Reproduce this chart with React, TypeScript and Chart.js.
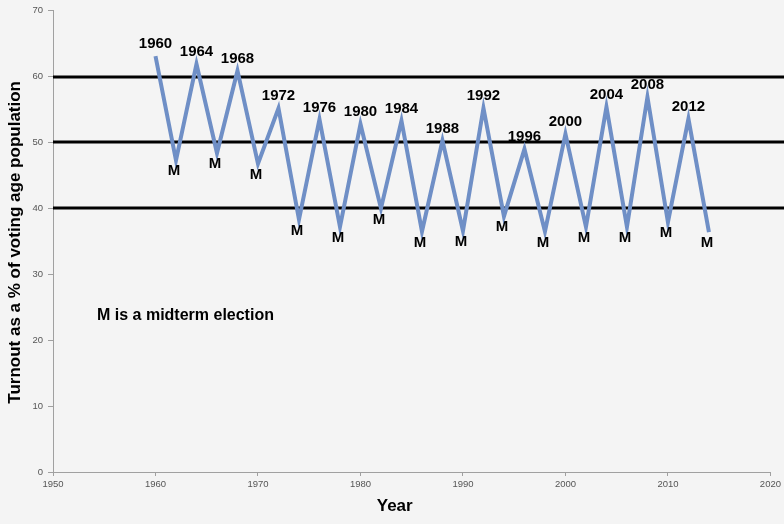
import React, { useEffect, useRef } from "react";
import { Chart, registerables } from "chart.js";

Chart.register(...registerables);

const years = [1960, 1962, 1964, 1966, 1968, 1970, 1972, 1974, 1976, 1978, 1980, 1982, 1984, 1986, 1988, 1990, 1992, 1994, 1996, 1998, 2000, 2002, 2004, 2006, 2008, 2010, 2012, 2014];
const turnout = [63.1, 47.3, 61.9, 48.4, 60.9, 46.8, 55.2, 38.3, 53.5, 37.2, 52.8, 40.0, 53.3, 36.5, 50.3, 36.6, 55.2, 38.8, 49.0, 36.5, 51.3, 37.2, 55.4, 37.2, 56.9, 37.9, 53.6, 36.4];
const pointLabels = ["1960", "M", "1964", "M", "1968", "M", "1972", "M", "1976", "M", "1980", "M", "1984", "M", "1988", "M", "1992", "M", "1996", "M", "2000", "M", "2004", "M", "2008", "M", "2012", "M"];
const referenceLines = [40, 50, 60];
const xRange = { min: 1950, max: 2020, step: 10 };
const yRange = { min: 0, max: 70, step: 10 };
const yTitle = "Turnout as a % of voting age population";
const xTitle = "Year";
const note = "M is a midterm election";

const FONT = 'Arial, "Liberation Sans", sans-serif';

const customDraw = {
  id: "customDraw",
  beforeDraw(chart: any) {
    const { ctx, width, height } = chart;
    ctx.save();
    ctx.fillStyle = "#f4f4f4";
    ctx.fillRect(0, 0, width, height);
    ctx.restore();
  },
  beforeDatasetsDraw(chart: any) {
    const { ctx, chartArea, width } = chart;
    const yScale = chart.scales.y;
    ctx.save();
    ctx.strokeStyle = "#000";
    ctx.lineWidth = 3;
    referenceLines.forEach((v) => {
      const py = Math.round(yScale.getPixelForValue(v));
      ctx.beginPath();
      ctx.moveTo(chartArea.left, py);
      ctx.lineTo(width, py);
      ctx.stroke();
    });
    ctx.restore();
  },
  afterDatasetsDraw(chart: any) {
    const { ctx, chartArea } = chart;
    const xScale = chart.scales.x;
    const yScale = chart.scales.y;
    ctx.save();
    ctx.fillStyle = "#000";
    ctx.textAlign = "center";
    ctx.textBaseline = "middle";
    ctx.font = `bold 15px ${FONT}`;
    years.forEach((yr, i) => {
      const px = xScale.getPixelForValue(yr);
      const py = yScale.getPixelForValue(turnout[i]);
      const lab = pointLabels[i];
      if (lab === "M") {
        ctx.fillText(lab, px - 2, py + 11);
      } else {
        ctx.fillText(lab, px, py - 12);
      }
    });
    // note
    ctx.textAlign = "left";
    ctx.font = `bold 16px ${FONT}`;
    ctx.fillText(note, 97, yScale.getPixelForValue(23.8));
    // x title
    ctx.textAlign = "center";
    ctx.font = `bold 17px ${FONT}`;
    ctx.fillText(xTitle, (chartArea.left + chartArea.right) / 2 - 17, 506);
    // y title
    ctx.font = `bold 17px ${FONT}`;
    ctx.translate(15, (chartArea.top + chartArea.bottom) / 2 + 1);
    ctx.rotate(-Math.PI / 2);
    ctx.fillText(yTitle, 0, 0);
    ctx.restore();
  },
};

export default function App() {
  const ref = useRef<HTMLCanvasElement>(null);
  useEffect(() => {
    if (!ref.current) return;
    const chart = new Chart(ref.current, {
      type: "line",
      data: {
        datasets: [
          {
            data: years.map((x, i) => ({ x, y: turnout[i] })),
            borderColor: "#6f8fc6",
            borderWidth: 4,
            pointRadius: 0,
            tension: 0,
            fill: false,
          },
        ],
      },
      options: {
        animation: false,
        responsive: false,
        devicePixelRatio: 1,
        layout: { padding: { top: 10, right: 13, left: 0, bottom: 0 } },
        plugins: { legend: { display: false }, tooltip: { enabled: false } },
        scales: {
          x: {
            type: "linear",
            min: xRange.min,
            max: xRange.max,
            afterFit: (s: any) => {
              s.height = 52;
            },
            ticks: {
              stepSize: xRange.step,
              color: "#555",
              font: { family: FONT, size: 9.5 },
              padding: 3,
              maxRotation: 0,
              callback: (v: any) => String(v),
            },
            grid: { drawOnChartArea: false, color: "#a0a0a0", tickColor: "#a0a0a0", tickLength: 4 },
            border: { color: "#a0a0a0", width: 1 },
          },
          y: {
            type: "linear",
            min: yRange.min,
            max: yRange.max,
            afterFit: (s: any) => {
              s.width = 53;
            },
            ticks: {
              stepSize: yRange.step,
              color: "#555",
              font: { family: FONT, size: 9.5 },
              padding: 5,
            },
            grid: { drawOnChartArea: false, color: "#a0a0a0", tickColor: "#a0a0a0", tickLength: 5 },
            border: { color: "#a0a0a0", width: 1 },
          },
        },
      },
      plugins: [customDraw],
    });
    return () => chart.destroy();
  }, []);
  return (
    <div style={{ position: "absolute", left: 0, top: 0, width: 784, height: 524, background: "#f4f4f4" }}>
      <canvas ref={ref} width={784} height={524} style={{ display: "block" }} />
    </div>
  );
}
